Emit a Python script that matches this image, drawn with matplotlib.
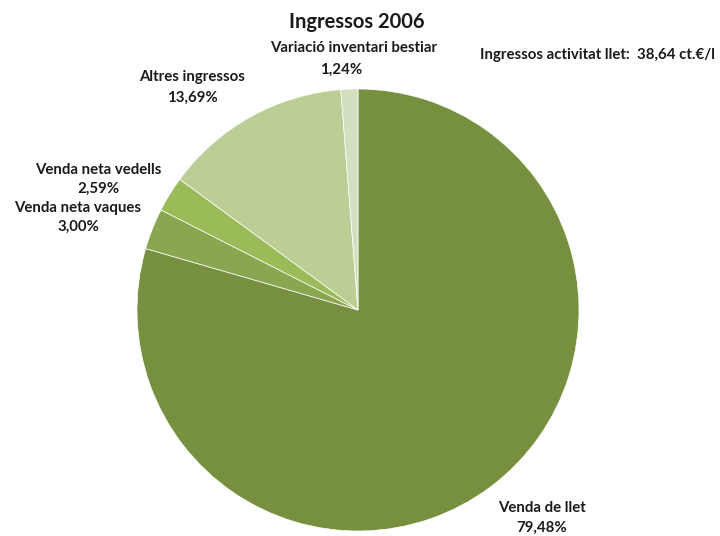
import matplotlib.pyplot as plt

categories = ["Venda de llet", "Venda neta vaques", "Venda neta vedells",
              "Altres ingressos", "Variació inventari bestiar"]
values = [79.48, 3.00, 2.59, 13.69, 1.24]
pct_labels = ["79,48%", "3,00%", "2,59%", "13,69%", "1,24%"]
colors = ["#76903F", "#8AA650", "#9BBB59", "#BBCE96", "#D3E0C0"]

plt.rcParams['font.family'] = ['Lato', 'DejaVu Sans']

fig = plt.figure(figsize=(7.2, 5.36), dpi=100)
W, H = 720, 536
cx, cy, r = 358, 310, 221
ax = fig.add_axes([(cx - r) / W, (H - cy - r) / H, 2 * r / W, 2 * r / H])
ax.pie(values, colors=colors, startangle=90, counterclock=False, radius=1,
       wedgeprops=dict(edgecolor="white", linewidth=0.5))
ax.set_xlim(-1, 1)
ax.set_ylim(-1, 1)
ax.set_aspect("auto")
ax.axis("off")


def px(x, y, s, size=10.8):
    fig.text(x / W, 1 - y / H, s, ha="center", va="center",
             fontsize=size, fontweight="bold", color="#1a1a1a")


px(357, 22, "Ingressos 2006", size=14.5)
px(597, 55, "Ingressos activitat llet:  38,64 ct.€/l")

# label positions (pixel centres) for each slice: name line, percent line
label_pos = [((542, 508), (542, 528)),
             ((78, 208), (78, 227)),
             ((98, 170), (98, 189)),
             ((192, 77), (192, 98)),
             ((354, 48), (341, 70))]
for name, pct, (p1, p2) in zip(categories, pct_labels, label_pos):
    px(p1[0], p1[1], name)
    px(p2[0], p2[1], pct)

fig.savefig("out.png", dpi=100)
